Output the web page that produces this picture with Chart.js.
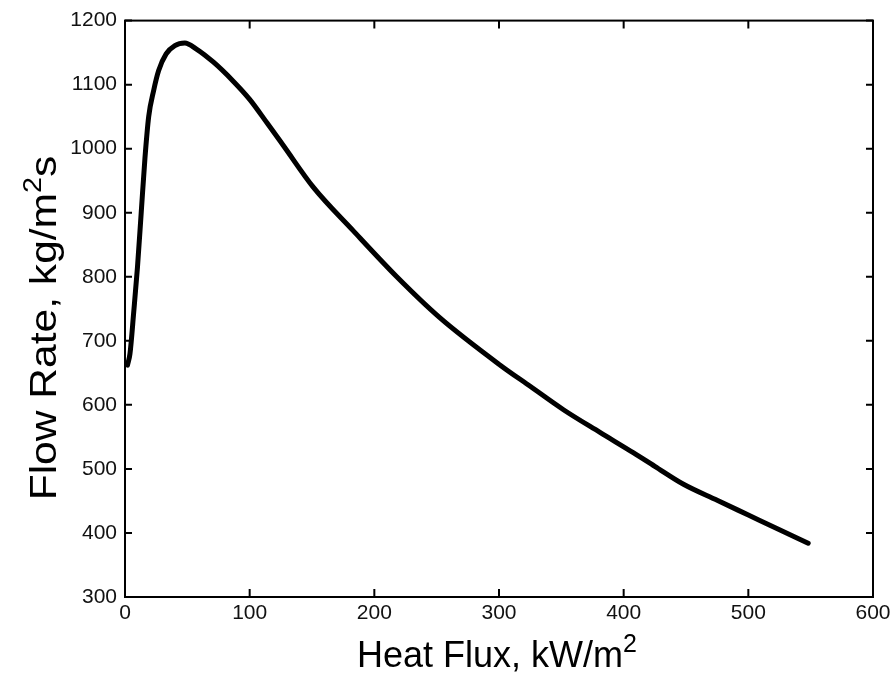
<!DOCTYPE html>
<html><head><meta charset="utf-8">
<script src="https://cdn.jsdelivr.net/npm/chart.js@4"></script>
<style>html,body{margin:0;padding:0;background:#fff}#wrap{width:896px;height:683px}</style>
</head><body><div id="wrap"><canvas id="c" width="896" height="683"></canvas></div>
<script>
const heatFlux = [2, 4, 7, 10, 13, 16, 19, 23, 27, 33, 40, 48, 57, 71, 87, 100, 114, 127, 151, 183, 218, 252, 301, 325, 352, 381, 408, 425, 448, 475, 500, 525, 548];
const flowRate = [662, 680, 745, 815, 900, 985, 1050, 1091, 1122, 1148, 1161, 1165, 1156, 1135, 1105, 1077, 1040, 1005, 940, 872, 800, 737, 662, 629, 592, 557, 525, 504, 476, 451, 428, 405, 384];
const xTicks = [0, 100, 200, 300, 400, 500, 600];
const yTicks = [300, 400, 500, 600, 700, 800, 900, 1000, 1100, 1200];
const xTitleParts = ['Heat Flux, kW/m', '2', ''];
const yTitleParts = ['Flow Rate, kg/m', '2', 's'];

const FONT = '"Liberation Sans", Arial, sans-serif';

function drawTitle(ctx, parts, size, supSize, supRise) {
  ctx.font = size + 'px ' + FONT;
  const w0 = ctx.measureText(parts[0]).width;
  const w2 = ctx.measureText(parts[2]).width;
  ctx.font = supSize + 'px ' + FONT;
  const w1 = ctx.measureText(parts[1]).width;
  let x = -(w0 + w1 + w2) / 2;
  ctx.textAlign = 'left';
  ctx.textBaseline = 'alphabetic';
  ctx.font = size + 'px ' + FONT;
  ctx.fillText(parts[0], x, 0); x += w0;
  ctx.font = supSize + 'px ' + FONT;
  ctx.fillText(parts[1], x, -supRise); x += w1;
  ctx.font = size + 'px ' + FONT;
  ctx.fillText(parts[2], x, 0);
}

const framePlugin = {
  id: 'frame',
  afterDraw(chart) {
    const {ctx, chartArea: a, scales} = chart;
    ctx.save();
    ctx.strokeStyle = '#000';
    ctx.lineWidth = 2;
    ctx.strokeRect(a.left, a.top, a.right - a.left, a.bottom - a.top);
    ctx.beginPath();
    xTicks.forEach(v => {
      const px = scales.x.getPixelForValue(v);
      ctx.moveTo(px, a.bottom); ctx.lineTo(px, a.bottom - 8);
      ctx.moveTo(px, a.top); ctx.lineTo(px, a.top + 8);
    });
    yTicks.forEach(v => {
      const py = scales.y.getPixelForValue(v);
      ctx.moveTo(a.left, py); ctx.lineTo(a.left + 7, py);
      ctx.moveTo(a.right, py); ctx.lineTo(a.right - 7, py);
    });
    ctx.stroke();
    ctx.fillStyle = '#000';
    ctx.save();
    ctx.translate((a.left + a.right) / 2 - 2, 667);
    drawTitle(ctx, xTitleParts, 36, 25, 15);
    ctx.restore();
    ctx.save();
    ctx.translate(56, 328);
    ctx.rotate(-Math.PI / 2);
    ctx.scale(1.15, 1);
    drawTitle(ctx, yTitleParts, 37, 25, 15);
    ctx.restore();
    ctx.restore();
  }
};

new Chart(document.getElementById('c'), {
  type: 'line',
  data: {
    datasets: [{
      data: heatFlux.map((x, i) => ({x: x, y: flowRate[i]})),
      borderColor: '#000',
      borderWidth: 5,
      pointRadius: 0,
      fill: false,
      cubicInterpolationMode: 'monotone',
      borderCapStyle: 'round',
      borderJoinStyle: 'round'
    }]
  },
  options: {
    responsive: false,
    animation: false,
    devicePixelRatio: 1,
    layout: {padding: {top: 20, right: 23, bottom: 0, left: 0}},
    plugins: {legend: {display: false}, tooltip: {enabled: false}},
    scales: {
      x: {
        type: 'linear', min: 0, max: 600,
        afterBuildTicks: s => { s.ticks = xTicks.map(v => ({value: v})); },
        ticks: {font: {size: 21, family: FONT}, color: '#111', padding: 4, maxRotation: 0, callback: v => String(v)},
        grid: {display: false, drawTicks: false},
        border: {display: false},
        afterFit: s => { s.height = 86; }
      },
      y: {
        type: 'linear', min: 300, max: 1200,
        afterBuildTicks: s => { s.ticks = yTicks.map(v => ({value: v})); },
        ticks: {font: {size: 21, family: FONT}, color: '#111', padding: 8, callback: v => String(v)},
        grid: {display: false, drawTicks: false},
        border: {display: false},
        afterFit: s => { s.width = 125; }
      }
    }
  },
  plugins: [framePlugin]
});
</script>
</body></html>
